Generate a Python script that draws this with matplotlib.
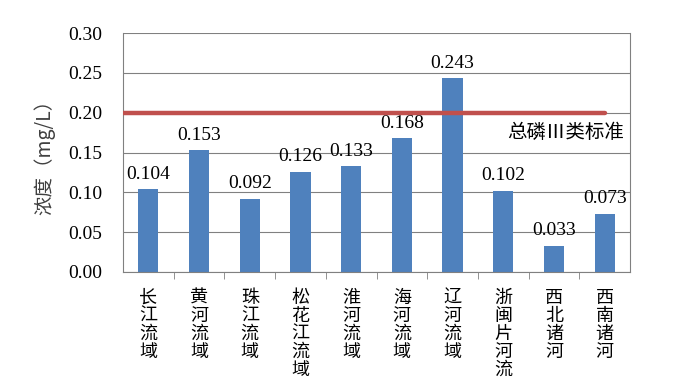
import matplotlib.pyplot as plt
import numpy as np

basins = ["长江流域", "黄河流域", "珠江流域", "松花江流域", "淮河流域",
          "海河流域", "辽河流域", "浙闽片河流", "西北诸河", "西南诸河"]
values = [0.104, 0.153, 0.092, 0.126, 0.133, 0.168, 0.243, 0.102, 0.033, 0.073]
standard = 0.20
standard_label = "总磷Ⅲ类标准"

plt.rcParams['font.family'] = ['Liberation Serif', 'Noto Sans CJK SC', 'DejaVu Sans']
cjk = ['Noto Sans CJK SC', 'DejaVu Sans']

fig = plt.figure(figsize=(7, 3.92), dpi=100)
ax = fig.add_axes([123 / 700, 1 - 272 / 392, 507 / 700, 239 / 392])

x = np.arange(len(basins))
ax.bar(x, values, width=0.4, color="#4F81BD", zorder=2)
for xi, v in zip(x, values):
    ax.text(xi, v + 0.008, f"{v:.3f}", ha="center", va="bottom", fontsize=14)

ax.plot([-0.5, 9], [standard, standard], color="#C0504D", lw=3.2,
        solid_capstyle="round", zorder=3)
ax.text(9.38, standard - 0.011, standard_label, ha="right", va="top", fontsize=14,
        family=cjk, fontweight="light")

ax.set_xlim(-0.5, 9.5)
ax.set_ylim(0, 0.30)
ticks = np.arange(0, 0.301, 0.05)
ax.set_yticks(ticks)
ax.set_yticklabels([f"{t:.2f}" for t in ticks], fontsize=14)
ax.yaxis.grid(True, color="#808080", lw=0.8, zorder=0)
ax.tick_params(axis="y", length=0, pad=15)

ax.set_xticks(x)
ax.set_xticklabels(["\n".join(b) for b in basins], fontsize=13, linespacing=1.0,
                   family=cjk, va="top", fontweight="light")
ax.tick_params(axis="x", length=0, pad=12)
ax.set_xticks(np.arange(0.5, 9, 1), minor=True)
ax.tick_params(axis="x", which="minor", length=5, color="#808080", direction="out")

for side in ["left", "bottom", "right"]:
    ax.spines[side].set_color("#808080")
ax.spines["top"].set_visible(False)

ax.set_ylabel("浓度（mg/L）", fontsize=14, family=cjk, labelpad=9, color="#404040",
              fontweight="light")

fig.savefig("out.png", dpi=100)
